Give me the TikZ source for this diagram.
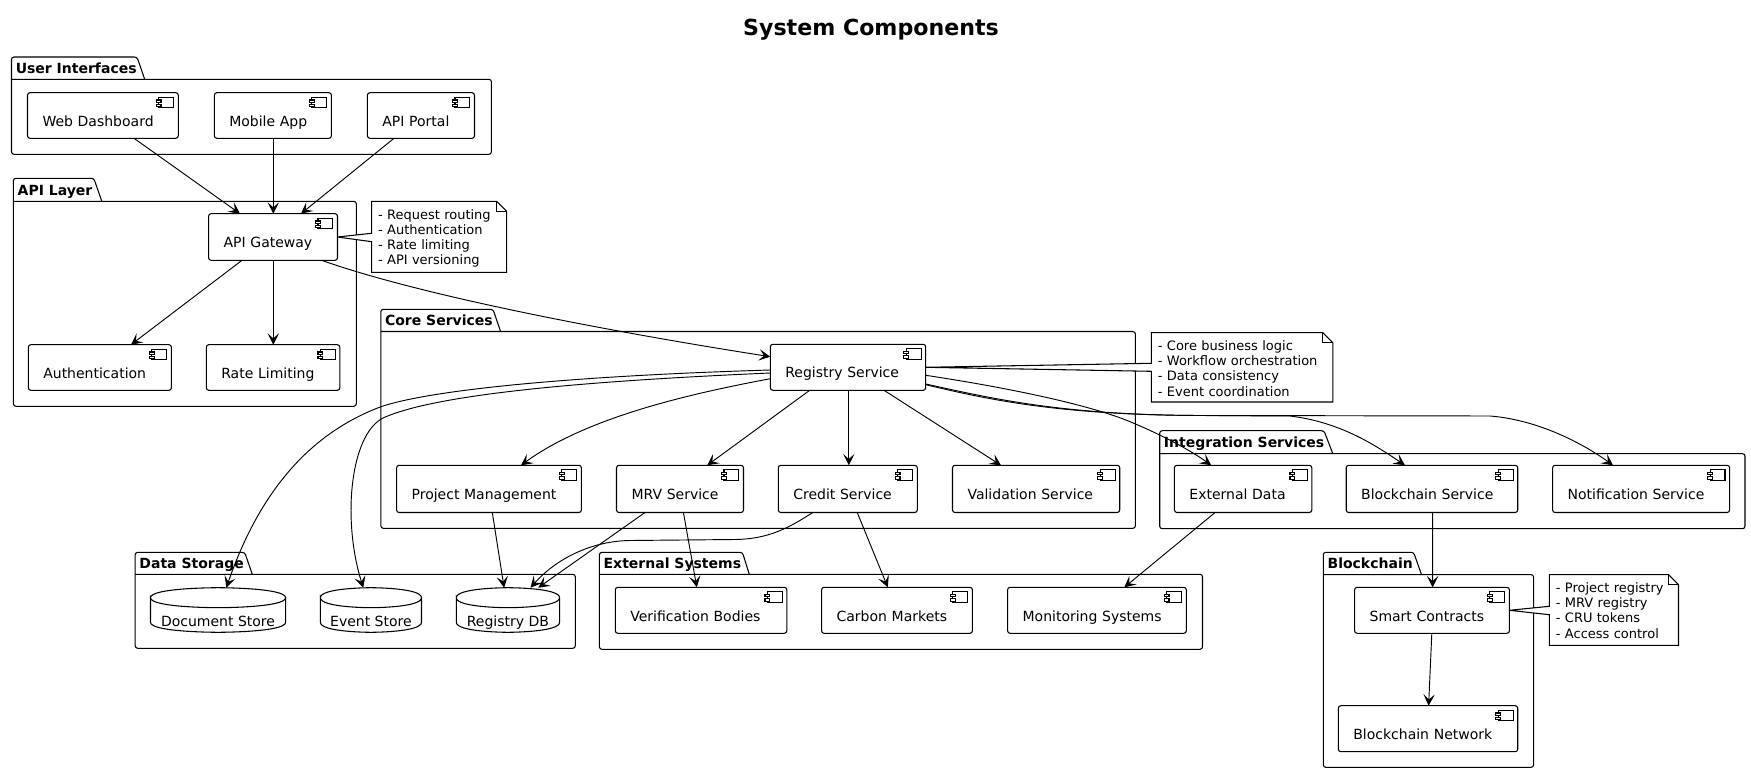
\documentclass[tikz,border=0pt]{standalone}
\usepackage{fontspec}
\setmainfont{DejaVu Sans}
\usetikzlibrary{arrows.meta,calc}
\pgfdeclarelayer{pkg}
\pgfdeclarelayer{wedge}
\pgfsetlayers{pkg,wedge,main}
\newlength\pxu
\setlength\pxu{0.75pt}
\tikzset{
  line/.style={draw=black,line width=0.8pt},
  conn/.style={draw=black,line width=0.7pt,-{Stealth[length=8.5pt,width=8.5pt,inset=3.8pt]}},
  boxbase/.style={line,rounded corners=2.5\pxu,fill=white,outer sep=0pt,inner ysep=0pt,anchor=north west,align=left},
  comptext/.style={font=\fontsize{10.5pt}{12pt}\selectfont},
  pkgtitle/.style={font=\bfseries\fontsize{10.5pt}{12pt}\selectfont,anchor=base west,inner sep=0pt},
  notetext/.style={font=\fontsize{9.75pt}{11.35pt}\selectfont,anchor=north west,align=left,inner xsep=0pt,inner ysep=0pt,outer sep=0pt},
  titletext/.style={font=\bfseries\fontsize{16.6pt}{20pt}\selectfont,inner sep=0pt}
}
% component: name x1 y1 x2 y2 text
\newcommand\comp[6]{%
  \pgfmathsetmacro\cw{#4-#2-30}%
  \pgfmathsetmacro\ch{#5-#3-33.7}%
  \node[boxbase,comptext,inner xsep=15\pxu,text width=\cw\pxu,text height=33.7\pxu,text depth=\ch\pxu] (#1) at (#2,#3) {#6};
  \draw[line,fill=white] ($(#1.north east)+(-19.5,4.6)$) rectangle ($(#1.north east)+(-4.6,15)$);
  \draw[line,fill=white] ($(#1.north east)+(-21.8,7.3)$) rectangle ($(#1.north east)+(-17.3,9.6)$);
  \draw[line,fill=white] ($(#1.north east)+(-21.8,11.6)$) rectangle ($(#1.north east)+(-17.3,13.9)$);
}
% database: name x1 y1 x2 y2 text
\newcommand\dbase[6]{%
  \pgfmathsetmacro\cw{#4-#2}%
  \pgfmathsetmacro\ch{#5-#3-39}%
  \node[comptext,inner sep=0pt,outer sep=0pt,anchor=north west,minimum width=\cw\pxu,text height=39\pxu,text depth=\ch\pxu] (#1) at (#2,#3) {#6};
  \coordinate (#1tl) at ($(#1.north west)+(0,10)$);
  \coordinate (#1tr) at ($(#1.north east)+(0,10)$);
  \coordinate (#1bl) at ($(#1.south west)+(0,-10)$);
  \coordinate (#1br) at ($(#1.south east)+(0,-10)$);
  \draw[line] (#1tl) .. controls (#1.north west) and (#1.north) .. (#1.north) .. controls (#1.north) and (#1.north east) .. (#1tr)
     .. controls ($(#1tr)+(0,10)$) and ($(#1tl)!.5!(#1tr)+(0,10)$) .. ($(#1tl)!.5!(#1tr)+(0,10)$)
     .. controls ($(#1tl)!.5!(#1tr)+(0,10)$) and ($(#1tl)+(0,10)$) .. (#1tl) -- (#1bl)
     .. controls (#1.south west) and (#1.south) .. (#1.south) .. controls (#1.south) and (#1.south east) .. (#1br) -- (#1tr);
}
% package: name x1 tabtop bodytop x2 bottom tabr1 tabr2 title
\newcommand\pkgbox[9]{%
  \begin{pgfonlayer}{pkg}
  \draw[line,rounded corners=2.5\pxu] (#8,#4) -- (#7,#3) -- (#2,#3) -- (#2,#6) -- (#5,#6) -- (#5,#4) -- (#2,#4);
  \end{pgfonlayer}
  \node[pkgtitle] (#1) at ($(#2,#4)+(4,-6)$) {#9};
}
% note: name x1 y1 x2 y2 target wy1 wy2 text
\newcommand\notebox[9]{%
  \pgfmathsetmacro\cw{#4-#2-6}%
  \pgfmathsetmacro\ch{#5-#3-18}%
  \node[notetext,text width=\cw\pxu,text height=18\pxu,text depth=\ch\pxu] (#1) at ($(#2,#3)+(6.5,0)$) {#9};
  \begin{pgfonlayer}{wedge}
  \draw[line,fill=white] (#2,#3) -- ($(#4,#3)+(-10,0)$) -- ($(#4,#3)+(0,10)$) -- (#4,#5) -- (#2,#5) -- (#2,#8) -- (#6.east) -- (#2,#7) -- cycle;
  \draw[line] ($(#4,#3)+(-10,0)$) -- ($(#4,#3)+(-10,10)$) -- ($(#4,#3)+(0,10)$);
  \end{pgfonlayer}
}
\begin{document}
\begin{tikzpicture}[x=0.75pt,y=-0.75pt]
\useasboundingbox (0,0) rectangle (1751,773);
\node[titletext] (title) at (871,30) {System Components};

\pkgbox{pUI}{11.5}{57}{79.3}{491.4}{154.3}{137}{144.7}{User Interfaces}
\pkgbox{pAPI}{13.4}{178.3}{201.3}{356.3}{406.3}{93.8}{101.8}{API Layer}
\pkgbox{pCore}{380.8}{309.3}{331.5}{1135.4}{528.3}{493}{500.6}{Core Services}
\pkgbox{pData}{135.2}{552.3}{574.3}{575.3}{648.3}{244.7}{252.3}{Data Storage}
\pkgbox{pExt}{599.4}{552.3}{574.3}{1202.5}{649.3}{742.4}{749.3}{External Systems}
\pkgbox{pInt}{1159.7}{430.7}{453.7}{1745}{528.7}{1324}{1332.8}{Integration Services}
\pkgbox{pBC}{1323.3}{552.3}{574.7}{1533.6}{767.3}{1413.6}{1421.5}{Blockchain}

\comp{web}{27.5}{92.7}{178.3}{138.3}{Web Dashboard}
\comp{mob}{214.3}{92.7}{331.4}{138.3}{Mobile App}
\comp{por}{367.4}{92.7}{474.5}{138.3}{API Portal}
\comp{gw}{208.6}{213.7}{337.5}{260.3}{API Gateway}
\comp{auth}{28.3}{344.7}{171.4}{390.3}{Authentication}
\comp{rate}{206.3}{344.7}{339.8}{390.3}{Rate Limiting}
\comp{reg}{770.3}{344.3}{925.7}{390.3}{Registry Service}
\comp{proj}{396.6}{465.3}{581.4}{512.5}{Project Management}
\comp{mrv}{616.5}{465.3}{743.5}{512.5}{MRV Service}
\comp{cred}{778.3}{465.3}{917.3}{512.5}{Credit Service}
\comp{val}{952.5}{465.3}{1119.7}{512.5}{Validation Service}
\comp{extd}{1174.4}{465.3}{1311.8}{512.5}{External Data}
\comp{bcs}{1346.2}{465.3}{1517.7}{512.5}{Blockchain Service}
\comp{notif}{1552.6}{465.3}{1729.6}{512.5}{Notification Service}
\comp{veri}{615.3}{587.3}{786.8}{633.3}{Verification Bodies}
\comp{carb}{821.6}{587.3}{972.4}{633.3}{Carbon Markets}
\comp{moni}{1007.6}{587.3}{1186.3}{633.3}{Monitoring Systems}
\comp{smart}{1354.6}{587.3}{1509.4}{633.3}{Smart Contracts}
\comp{bcn}{1338.3}{705.7}{1517.7}{751.7}{Blockchain Network}

\dbase{doc}{150.5}{587.7}{285.6}{632.3}{Document Store}
\dbase{evt}{320.4}{587.7}{421.5}{632.3}{Event Store}
\dbase{rdb}{456.3}{587.7}{559.6}{632.3}{Registry DB}

\notebox{nGw}{371.6}{201.3}{506.7}{272.3}{gw}{233.3}{241.7}{- Request routing\\- Authentication\\- Rate limiting\\- API versioning}
\notebox{nReg}{1151.4}{332.7}{1332.8}{402}{reg}{363.3}{371.3}{- Core business logic\\- Workflow orchestration\\- Data consistency\\- Event coordination}
\notebox{nSm}{1549.4}{574.7}{1678.5}{645.3}{smart}{606.3}{614.7}{- Project registry\\- MRV registry\\- CRU tokens\\- Access control}

% connectors
\draw[conn] ($(web.south west)+(106.5,0)$) -- ($(gw.north west)+(31.4,0)$);
\draw[conn] ($(mob.south west)+(59,0)$) -- ($(gw.north west)+(64.7,0)$);
\draw[conn] ($(por.south west)+(26.6,0)$) -- ($(gw.north west)+(92.4,0)$);
\draw[conn] ($(gw.south west)+(33.4,0)$) -- ($(auth.north west)+(102.7,0)$);
\draw[conn] ($(gw.south west)+(64.7,0)$) -- ($(rate.north west)+(67,0)$);
\draw[conn] ($(gw.south west)+(112.9,0)$) .. controls (420,295) and (600,330) .. ($(reg.north west)+(0,12.4)$);

\draw[conn] ($(reg.north west)+(0,34.4)$) .. controls (700,392) and (590,415) .. ($(proj.north west)+(124.4,0)$);
\draw[conn] ($(reg.south west)+(39.4,0)$) -- ($(mrv.north west)+(90.7,0)$);
\draw[conn] ($(reg.south west)+(78.5,0)$) -- ($(cred.north west)+(70.5,0)$);
\draw[conn] ($(reg.south west)+(113.7,0)$) -- ($(val.north west)+(48.5,0)$);
\draw[conn] ($(reg.north west)+(0,25.7)$) .. controls (570,376) and (430,390) .. (381,406.7) .. controls (300,437) and (255,505) .. ($(doc.north west)+(75.8,0)$);
\draw[conn] ($(reg.north west)+(0,28.7)$) .. controls (610,380) and (440,392) .. (383,418) .. controls (350,435) and (342,520) .. ($(evt.north west)+(42.9,0)$);
\draw[conn] ($(reg.north west)+(155.4,31)$) .. controls (1010,388) and (1090,405) .. (1130,421.7) .. controls (1160,434) and (1190,450) .. ($(extd.north west)+(36.8,0)$);
\draw[conn] ($(reg.north west)+(155.4,39.7)$) .. controls (990,398) and (1060,415) .. (1200,415.5) -- (1290,416) .. controls (1340,422) and (1375,445) .. ($(bcs.north west)+(58.8,0)$);
\draw[conn] ($(reg.north west)+(155.4,40.4)$) .. controls (990,400) and (1060,415) .. (1200,415.5) -- (1490,416) .. controls (1540,420) and (1585,445) .. ($(notif.north west)+(60.4,0)$);

\draw[conn] ($(proj.south west)+(95.7,0)$) -- ($(rdb.north west)+(47.8,0)$);
\draw[conn] ($(mrv.south west)+(28.5,0)$) -- ($(rdb.north west)+(81.9,0)$);
\draw[conn] ($(mrv.south west)+(66.9,0)$) -- ($(veri.north west)+(81.5,0)$);
\draw[conn] ($(cred.south west)+(34.5,0)$) .. controls (790,527) and (770,539) .. (735,539.5) -- (630,540.5) .. controls (590,541) and (555,560) .. ($(rdb.north west)+(74.2,0)$);
\draw[conn] ($(cred.south west)+(78.9,0)$) -- ($(carb.north west)+(66.2,0)$);
\draw[conn] ($(extd.south west)+(40.7,0)$) -- ($(moni.north west)+(116.7,0)$);
\draw[conn] ($(bcs.south west)+(86.4,0)$) -- ($(smart.north west)+(78,0)$);
\draw[conn] ($(smart.south west)+(77.2,0)$) -- ($(bcn.north west)+(90.3,0)$);
\end{tikzpicture}
\end{document}
